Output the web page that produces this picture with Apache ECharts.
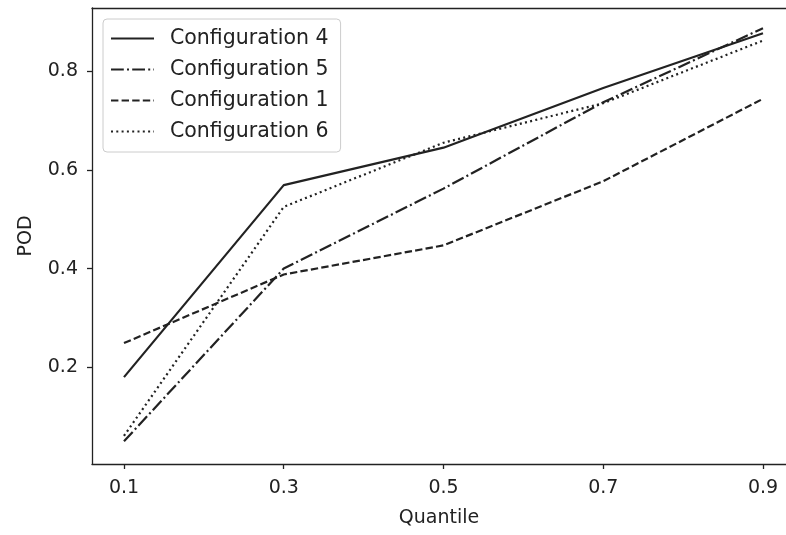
<!DOCTYPE html>
<html>
<head>
<meta charset="utf-8">
<script src="https://cdn.jsdelivr.net/npm/echarts@6/dist/echarts.min.js"></script>
<style>
  html, body { margin: 0; padding: 0; background: #fff; }
  #chart { width: 786px; height: 535px; }
</style>
</head>
<body>
<div id="chart"></div>
<script>
// Quantile levels on the x axis
const quantiles = [0.1, 0.3, 0.5, 0.7, 0.9];
const yTicks = [0.2, 0.4, 0.6, 0.8];

// POD per configuration
const config4 = [0.180, 0.569, 0.645, 0.766, 0.877];
const config5 = [0.050, 0.400, 0.562, 0.737, 0.887];
const config1 = [0.249, 0.388, 0.447, 0.577, 0.744];
const config6 = [0.061, 0.525, 0.655, 0.735, 0.862];

const ink = '#222';
const font = 'DejaVu Sans';

function pairs(vals) {
  return quantiles.map((q, i) => [q, vals[i]]);
}

function lineSeries(name, vals, type) {
  return {
    name: name,
    type: 'line',
    data: pairs(vals),
    symbol: 'none',
    showSymbol: false,
    animation: false,
    lineStyle: { color: ink, width: 2.2, type: type, cap: 'butt' },
    itemStyle: { color: ink }
  };
}

const chart = echarts.init(document.getElementById('chart'), null, { renderer: 'canvas' });
chart.setOption({
  animation: false,
  backgroundColor: '#fff',
  grid: { left: 92, top: 8, right: 0, bottom: 71 },
  xAxis: [{
    type: 'value',
    min: 0.05995, max: 0.9288,
    name: 'Quantile',
    nameLocation: 'middle',
    nameGap: 45,
    nameTextStyle: { color: ink, fontFamily: font, fontSize: 19 },
    axisLine: { show: true, lineStyle: { color: ink, width: 1.3 } },
    axisTick: { show: true, length: 5, customValues: quantiles, lineStyle: { color: ink, width: 1.3 } },
    axisLabel: {
      customValues: quantiles, margin: 15, color: ink, fontFamily: font, fontSize: 19,
      formatter: v => v.toFixed(1)
    },
    splitLine: { show: false }
  }, {
    // top frame line
    type: 'value', position: 'top',
    min: 0.05995, max: 0.9288,
    axisLine: { show: true, lineStyle: { color: ink, width: 1.3 } },
    axisTick: { show: false },
    axisLabel: { show: false },
    splitLine: { show: false }
  }],
  yAxis: {
    type: 'value',
    min: 0.004, max: 0.928,
    name: 'POD',
    nameLocation: 'middle',
    nameGap: 56,
    nameTextStyle: { color: ink, fontFamily: font, fontSize: 19 },
    axisLine: { show: true, lineStyle: { color: ink, width: 1.3 } },
    axisTick: { show: true, length: 5, customValues: yTicks, lineStyle: { color: ink, width: 1.3 } },
    axisLabel: {
      customValues: yTicks, margin: 14, color: ink, fontFamily: font, fontSize: 19,
      formatter: v => v.toFixed(1)
    },
    splitLine: { show: false }
  },
  legend: {
    show: true,
    orient: 'vertical',
    left: 103, top: 19,
    padding: [9, 12, 10, 7],
    itemWidth: 43, itemHeight: 14, itemGap: 10,
    itemStyle: { opacity: 0 },
    backgroundColor: 'rgba(255,255,255,0.8)',
    borderColor: '#cccccc', borderWidth: 1, borderRadius: 4,
    textStyle: { color: ink, fontFamily: font, fontSize: 20.5, padding: [0, 0, 0, 11] },
    data: ['Configuration 4', 'Configuration 5', 'Configuration 1', 'Configuration 6']
  },
  series: [
    lineSeries('Configuration 4', config4, 'solid'),
    lineSeries('Configuration 5', config5, [12.8, 3.2, 2, 3.2]),
    lineSeries('Configuration 1', config1, [7.4, 3.2]),
    lineSeries('Configuration 6', config6, [2, 3.3])
  ]
});
</script>
</body>
</html>
